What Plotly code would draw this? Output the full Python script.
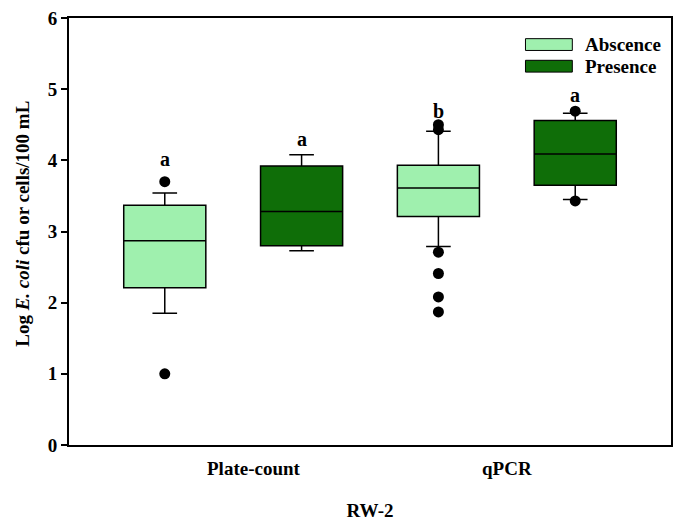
import plotly.graph_objects as go

# ---- data ----
categories = ["Plate-count", "qPCR"]
groups = ["Abscence", "Presence"]
colors = {"Abscence": "#9FF0AE", "Presence": "#0F6E08"}

# box statistics per group, per category (Plate-count, qPCR)
q1 = {"Abscence": [2.21, 3.21], "Presence": [2.80, 3.65]}
median = {"Abscence": [2.87, 3.61], "Presence": [3.28, 4.09]}
q3 = {"Abscence": [3.37, 3.93], "Presence": [3.92, 4.56]}
lower_whisker = {"Abscence": [1.85, 2.79], "Presence": [2.73, 3.45]}
upper_whisker = {"Abscence": [3.54, 4.41], "Presence": [4.08, 4.66]}
outliers = {
    "Abscence": [[3.70, 1.00], [4.50, 4.43, 2.71, 2.41, 2.08, 1.87]],
    "Presence": [[], [4.69, 3.43]],
}
letters = {"Abscence": ["a", "b"], "Presence": ["a", "a"]}
letter_y = {"Abscence": [4.02, 4.70], "Presence": [4.30, 4.92]}
y_ticks = [0, 1, 2, 3, 4, 5, 6]

offset = {"Abscence": -0.25, "Presence": 0.25}
box_width = 0.30

font_family = "Liberation Serif"

fig = go.Figure()
for g in groups:
    xs = [i + offset[g] for i in range(len(categories))]
    fig.add_trace(go.Box(
        x=xs, q1=q1[g], median=median[g], q3=q3[g],
        lowerfence=lower_whisker[g], upperfence=upper_whisker[g],
        width=box_width, whiskerwidth=0.3,
        fillcolor=colors[g], line=dict(color="black", width=1.5),
        boxpoints=False, name=g, showlegend=False,
    ))
    ox, oy = [], []
    for i, vals in enumerate(outliers[g]):
        for v in vals:
            ox.append(i + offset[g])
            oy.append(v)
    fig.add_trace(go.Scatter(
        x=ox, y=oy, mode="markers",
        marker=dict(color="black", size=11), showlegend=False, hoverinfo="y",
    ))
    for i, t in enumerate(letters[g]):
        fig.add_annotation(x=i + offset[g], y=letter_y[g][i], text="<b>%s</b>" % t,
                           showarrow=False, font=dict(family=font_family, size=20, color="black"))

# category labels
label_pos = [0.075, 1.0]
for i, c in enumerate(categories):
    fig.add_annotation(x=label_pos[i], y=0, yref="y", yshift=-23, text="<b>%s</b>" % c,
                       showarrow=False, font=dict(family=font_family, size=19, color="black"))

# layout geometry (pixels)
L, R, T, B = 69, 673, 11, 445
W, H = R - L, B - T
def px(x):
    return (x - L) / W
def py(y):
    return (B - y) / H

# custom legend
for j, g in enumerate(groups):
    cy = 38 + 22 * j
    fig.add_shape(type="rect", xref="paper", yref="paper",
                  x0=px(527), x1=px(574), y0=py(cy + 6), y1=py(cy - 6),
                  fillcolor=colors[g], line=dict(color="black", width=1))
    fig.add_annotation(xref="paper", yref="paper", x=px(585), y=py(cy),
                       xanchor="left", yanchor="middle", text="<b>%s</b>" % g,
                       showarrow=False, font=dict(family=font_family, size=19, color="black"))

# y-axis title
fig.add_annotation(xref="paper", yref="paper", x=px(22), y=py(220), textangle=-90,
                   text="<b>Log <i>E. coli</i> cfu or cells/100 mL</b>", showarrow=False,
                   xanchor="center", yanchor="middle",
                   font=dict(family=font_family, size=19, color="black"))

fig.update_layout(
    width=681, height=526,
    margin=dict(l=L, r=681 - R, t=T, b=526 - B),
    plot_bgcolor="white", paper_bgcolor="white",
    font=dict(family=font_family, color="black"),
    xaxis=dict(range=[-0.6, 1.6], showticklabels=False, ticks="", showgrid=False,
               zeroline=False, showline=True, linecolor="black", linewidth=2, mirror=True,
               title=dict(text="<b>RW-2</b>", font=dict(family=font_family, size=19), standoff=58)),
    yaxis=dict(range=[0, 6], tickvals=y_ticks, ticktext=["<b>%d</b>" % v for v in y_ticks],
               ticks="outside", ticklen=6,
               tickwidth=1.5, tickcolor="black", showgrid=False, zeroline=False,
               showline=True, linecolor="black", linewidth=2, mirror=True,
               tickfont=dict(family=font_family, size=19, color="black")),
)

fig.write_html("out.html")
